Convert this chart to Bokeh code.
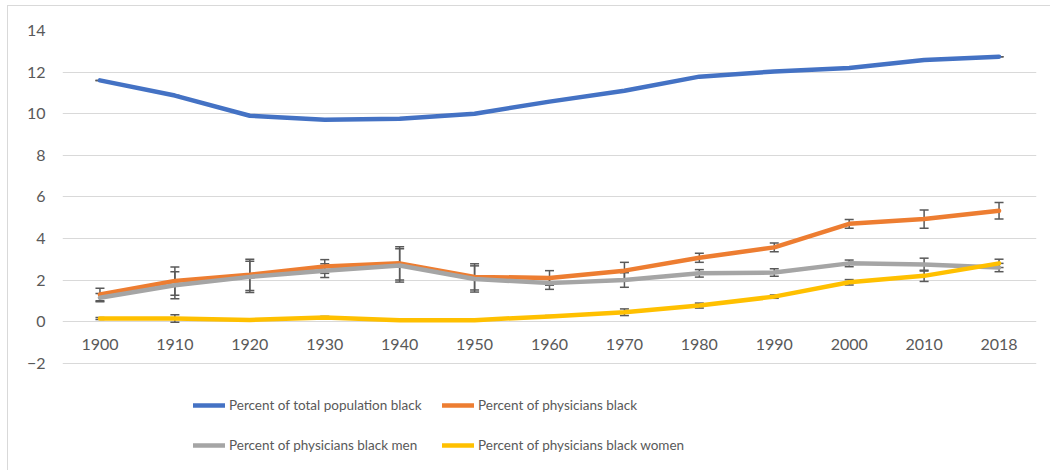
from bokeh.plotting import figure
from bokeh.models import ColumnDataSource, Whisker, TeeHead, Legend, LegendItem, FixedTicker
from bokeh.embed import file_html
from bokeh.resources import INLINE

years = ["1900", "1910", "1920", "1930", "1940", "1950", "1960",
         "1970", "1980", "1990", "2000", "2010", "2018"]
pop_black = [11.6, 10.87, 9.9, 9.71, 9.75, 10.0, 10.58, 11.1, 11.78, 12.03, 12.2, 12.58, 12.74]
pop_err = [0, 0, 0, 0, 0, 0, 0, 0, 0, 0, 0, 0, 0]
phys_black = [1.3, 1.95, 2.25, 2.65, 2.8, 2.15, 2.1, 2.45, 3.07, 3.57, 4.7, 4.93, 5.33]
phys_err = [0.3, 0.68, 0.75, 0.33, 0.8, 0.63, 0.35, 0.4, 0.22, 0.21, 0.21, 0.44, 0.4]
men_black = [1.15, 1.75, 2.15, 2.45, 2.7, 2.05, 1.85, 2.0, 2.32, 2.36, 2.8, 2.74, 2.6]
men_err = [0.2, 0.65, 0.75, 0.33, 0.8, 0.63, 0.3, 0.35, 0.18, 0.18, 0.16, 0.31, 0.2]
women_black = [0.15, 0.15, 0.08, 0.2, 0.07, 0.07, 0.25, 0.45, 0.77, 1.2, 1.89, 2.2, 2.8]
women_err = [0.05, 0.18, 0.05, 0.05, 0.04, 0.04, 0.04, 0.16, 0.12, 0.08, 0.13, 0.27, 0.2]
y_ticks = [-2, 0, 2, 4, 6, 8, 10, 12, 14]

names = ["Percent of total population black", "Percent of physicians black",
         "Percent of physicians black men", "Percent of physicians black women"]
colors = ["#4472C4", "#ED7D31", "#A5A5A5", "#FFC000"]
series = [pop_black, phys_black, men_black, women_black]
errors = [pop_err, phys_err, men_err, women_err]

FONT = "Lato"
TXT = "#595959"

# frame extends below the -2 gridline so the legend can sit inside it
p = figure(x_range=years, y_range=(-7.21, 14), width=1043, height=465,
           output_backend="svg", toolbar_location=None,
           min_border_left=54, min_border_right=15, min_border_top=24, min_border_bottom=0)
p.styles = {"border-left": "1px solid #d9d9d9", "border-top": "1px solid #d9d9d9",
            "margin-left": "7px", "margin-top": "5px"}
p.outline_line_color = None
p.xgrid.grid_line_color = None
p.ygrid.grid_line_color = "#D9D9D9"
p.ygrid.grid_line_width = 1
p.ygrid.ticker = FixedTicker(ticks=y_ticks)

p.yaxis.ticker = FixedTicker(ticks=y_ticks)
p.yaxis.axis_line_color = None
p.yaxis.major_tick_line_color = None
p.yaxis.minor_tick_line_color = None
p.yaxis.major_tick_out = 0
p.yaxis.major_tick_in = 0
p.yaxis.major_label_standoff = 17
p.yaxis.major_label_text_font = FONT
p.yaxis.major_label_text_font_size = "16px"
p.yaxis.major_label_text_color = TXT

p.xaxis.fixed_location = 0
p.xaxis.axis_line_color = None
p.xaxis.major_tick_line_color = None
p.xaxis.minor_tick_line_color = None
p.xaxis.major_tick_out = 0
p.xaxis.major_tick_in = 0
p.xaxis.major_label_standoff = 17
p.xaxis.major_label_text_font = FONT
p.xaxis.major_label_text_font_size = "16px"
p.xaxis.major_label_text_color = TXT

renderers = []
for vals, col in zip(series, colors):
    src = ColumnDataSource(dict(x=years, y=vals))
    r = p.line("x", "y", source=src, line_color=col, line_width=4.5,
               line_join="round", line_cap="round")
    renderers.append(r)

for vals, err in zip(series, errors):
    src = ColumnDataSource(dict(x=years,
                                lo=[v - e for v, e in zip(vals, err)],
                                hi=[v + e for v, e in zip(vals, err)]))
    w = Whisker(base="x", lower="lo", upper="hi", source=src,
                line_color="#595959", line_width=1.5,
                upper_head=TeeHead(size=9, line_color="#595959", line_width=1.5),
                lower_head=TeeHead(size=9, line_color="#595959", line_width=1.5))
    p.add_layout(w)


def make_legend(idx, loc):
    lg = Legend(items=[LegendItem(label=names[i], renderers=[renderers[i]]) for i in idx],
                orientation="horizontal", location=loc)
    lg.glyph_width = 32
    lg.glyph_height = 20
    lg.label_standoff = 4
    lg.label_width = 194
    lg.spacing = 19
    lg.padding = 0
    lg.margin = 0
    lg.border_line_color = None
    lg.background_fill_alpha = 0
    lg.label_text_font = FONT
    lg.label_text_font_size = "13.5px"
    lg.label_text_color = TXT
    return lg


p.add_layout(make_legend([0, 1], (131, 56)))
p.add_layout(make_legend([2, 3], (131, 16)))

open("out.html", "w").write(file_html(p, INLINE))
